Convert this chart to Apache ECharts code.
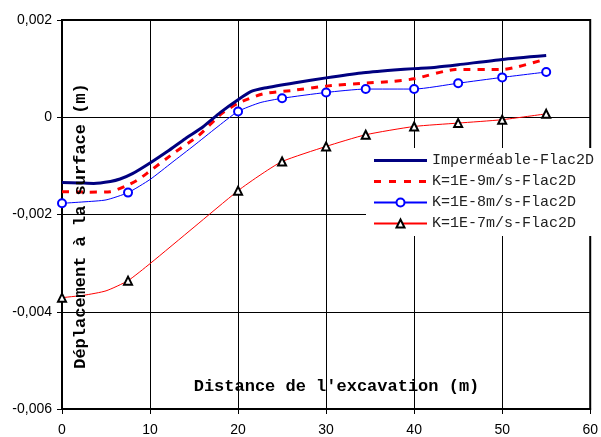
<!DOCTYPE html>
<html><head><meta charset="utf-8">
<script src="https://cdn.jsdelivr.net/npm/echarts@6/dist/echarts.min.js"></script>
<style>html,body{margin:0;padding:0;background:#fff}#c{width:601px;height:437px}</style>
</head><body><div id="c"></div>
<script>
var seriesNames = ['Imperméable-Flac2D','K=1E-9m/s-Flac2D','K=1E-8m/s-Flac2D','K=1E-7m/s-Flac2D'];
var xTicks = [0,10,20,30,40,50,60];
var yTicks = [-0.006,-0.004,-0.002,0,0.002];

var impX = [0,2,3.6,5.5,6.6,8,10,12,14,16,18,20,21.5,23,26.5,30,34,37.7,40,42.5,45,50,55];
var impY = [-0.00134,-0.00135,-0.00136,-0.00132,-0.00127,-0.00116,-0.00094,-0.0007,-0.00044,-0.0002,0.0001,0.00036,0.00053,0.0006,0.00071,0.00081,0.00091,0.00097,0.001,0.00103,0.00108,0.00119,0.00127];

var k9X = [0,3,5.5,7.2,8.5,9.6,12.6,15.5,18.1,20,22.8,26.1,30,34.3,37.7,40,44.7,50,55];
var k9Y = [-0.00153,-0.00154,-0.00153,-0.00142,-0.0013,-0.00116,-0.00075,-0.00038,0.00007,0.00029,0.00048,0.00055,0.00064,0.0007,0.00074,0.00079,0.00098,0.00098,0.0012];

var k8X = [0,2.5,5,7.5,10,12.5,15,17.5,20,22.5,25,30,34.5,40,45,50,55];
var k8Y = [-0.00177,-0.00174,-0.0017,-0.00155,-0.00128,-0.00093,-0.00058,-0.00022,0.00012,0.0003,0.00039,0.00051,0.00058,0.00058,0.0007,0.00082,0.00093];

var k7X = [0,2.5,5,7.5,10,15,20,22.5,25,30,34.5,40,45,50,55];
var k7Y = [-0.00371,-0.00366,-0.00357,-0.00336,-0.00301,-0.00226,-0.00151,-0.00119,-0.00091,-0.0006,-0.00036,-0.00019,-0.00012,-0.00005,0.00007];

var markerX = [0,7.5,20,25,30,34.5,40,45,50,55];

function pts(xs, ys, marked) {
  return xs.map(function (x, i) {
    var item = { value: [x, ys[i]] };
    if (marked && markerX.indexOf(x) < 0) item.symbol = 'none';
    return item;
  });
}
function fmtY(v) {
  var r = Math.round(v * 1000) / 1000;
  if (r === 0) return '0';
  return r.toFixed(3).replace('.', ',');
}

var solidIcon = 'path://M0,0 M0,3.5 L53,3.5 L53,6.5 L0,6.5 Z M53,10';
var dashIcon = 'path://M0,0 M0,3.5 L7,3.5 L7,6.5 L0,6.5 Z M15,3.5 L22,3.5 L22,6.5 L15,6.5 Z M30,3.5 L37,3.5 L37,6.5 L30,6.5 Z M45,3.5 L52,3.5 L52,6.5 L45,6.5 Z M53,10';

var chart = echarts.init(document.getElementById('c'), null, {renderer: 'canvas'});
chart.setOption({
  animation: false,
  backgroundColor: '#fff',
  grid: { left: 62, right: 1, top: 20, bottom: 28, show: true, borderColor: '#000', borderWidth: 2 },
  xAxis: {
    type: 'value', min: xTicks[0], max: xTicks[xTicks.length - 1], interval: 10,
    axisLine: { show: true, onZero: false, lineStyle: { color: '#000', width: 2 } },
    axisTick: { show: true, length: 5, lineStyle: { color: '#000', width: 1 } },
    axisLabel: { color: '#000', fontFamily: 'Liberation Sans', fontSize: 14, margin: 14, alignMaxLabel: 'center', alignMinLabel: 'center' },
    splitLine: { show: true, lineStyle: { color: '#000', width: 1 } }
  },
  yAxis: {
    type: 'value', min: yTicks[0], max: yTicks[yTicks.length - 1], interval: 0.002,
    axisLine: { show: true, onZero: false, lineStyle: { color: '#000', width: 2 } },
    axisTick: { show: true, length: 5, lineStyle: { color: '#000', width: 1 } },
    axisLabel: { color: '#000', fontFamily: 'Liberation Sans', fontSize: 14, margin: 10, formatter: fmtY },
    splitLine: { show: true, lineStyle: { color: '#000', width: 1 } }
  },
  legend: {
    orient: 'vertical', left: 366, top: 148, padding: [5, 6, 5, 7],
    backgroundColor: '#fff', itemWidth: 53, itemHeight: 10, itemGap: 6,
    textStyle: { fontFamily: 'Liberation Mono', fontSize: 15, color: '#222', lineHeight: 14 },
    data: [
      { name: seriesNames[0], icon: solidIcon },
      { name: seriesNames[1], icon: dashIcon },
      { name: seriesNames[2] },
      { name: seriesNames[3] }
    ]
  },
  graphic: [
    { type: 'text', x: 336.5, y: 387, z: 100,
      style: { text: "Distance de l'excavation (m)", font: 'bold 17px "Liberation Mono"', fill: '#000', align: 'center', verticalAlign: 'middle' } },
    { type: 'text', x: 80.5, y: 226, rotation: Math.PI / 2, z: 100,
      style: { text: 'Déplacement à la surface (m)', font: 'bold 17px "Liberation Mono"', fill: '#000', align: 'center', verticalAlign: 'middle' } }
  ],
  series: [
    { name: seriesNames[0], type: 'line', data: pts(impX, impY, false), symbol: 'none',
      smooth: 0.2, lineStyle: { color: '#000080', width: 3 }, itemStyle: { color: '#000080' }, z: 4 },
    { name: seriesNames[1], type: 'line', data: pts(k9X, k9Y, false), symbol: 'none',
      smooth: 0.2, lineStyle: { color: '#ff0000', width: 3, type: [7, 7] }, itemStyle: { color: '#ff0000' }, z: 3 },
    { name: seriesNames[2], type: 'line', data: pts(k8X, k8Y, true), symbol: 'emptyCircle', symbolSize: 8,
      smooth: 0.2, lineStyle: { color: '#0000ff', width: 1 }, itemStyle: { color: '#0000ff', borderWidth: 1.5 }, z: 2 },
    { name: seriesNames[3], type: 'line', data: pts(k7X, k7Y, true), symbol: 'emptyTriangle', symbolSize: 8,
      smooth: 0.2, lineStyle: { color: '#ff0000', width: 1 }, itemStyle: { color: '#000', borderWidth: 1.5 }, z: 2 }
  ]
});
</script></body></html>
